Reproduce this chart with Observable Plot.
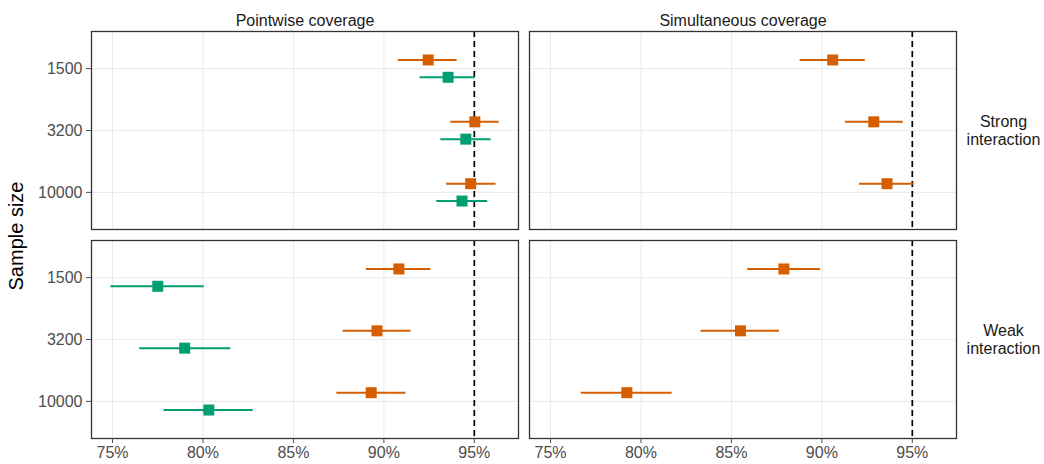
<!DOCTYPE html>
<html>
<head>
<meta charset="utf-8">
<script src="https://cdn.jsdelivr.net/npm/d3@7"></script>
<script src="https://cdn.jsdelivr.net/npm/@observablehq/plot@0.6"></script>
<style>
  html, body { margin: 0; padding: 0; background: #fff; }
  #chart svg { display: block; }
</style>
</head>
<body>
<div id="chart"></div>
<script>
// ---- data ----
const sampleSizes = ["1500", "3200", "10000"];
const coverageTypes = ["Pointwise coverage", "Simultaneous coverage"];
const interactions = ["Strong interaction", "Weak interaction"];
const seriesNames = ["Method A", "Method B"];
const seriesColors = ["#D55E00", "#009E73"];
const xTicks = [75, 80, 85, 90, 95];
const targetCoverage = 95;

// [lower, estimate, upper] per sample size (1500, 3200, 10000), in percent
const aStrongPointwise     = [[90.8, 92.45, 94.05], [93.7, 95.03, 96.37], [93.47, 94.8, 96.2]];
const bStrongPointwise     = [[92.0, 93.55, 95.05], [93.15, 94.53, 95.93], [92.92, 94.32, 95.74]];
const aStrongSimultaneous  = [[88.8, 90.6, 92.4], [91.3, 92.87, 94.5], [92.08, 93.6, 95.1]];
const aWeakPointwise       = [[89.03, 90.83, 92.6], [87.75, 89.62, 91.5], [87.4, 89.3, 91.22]];
const bWeakPointwise       = [[74.91, 77.5, 80.07], [76.5, 78.99, 81.54], [77.85, 80.32, 82.77]];
const aWeakSimultaneous    = [[85.9, 87.9, 89.93], [83.32, 85.5, 87.66], [76.7, 79.22, 81.72]];

function rowsFor(series, coverage, interaction, triples) {
  return triples.map(([lo, est, hi], i) => ({series, coverage, interaction, size: sampleSizes[i], lo, est, hi}));
}

const rows = [
  ...rowsFor(seriesNames[0], coverageTypes[0], interactions[0], aStrongPointwise),
  ...rowsFor(seriesNames[1], coverageTypes[0], interactions[0], bStrongPointwise),
  ...rowsFor(seriesNames[0], coverageTypes[1], interactions[0], aStrongSimultaneous),
  ...rowsFor(seriesNames[0], coverageTypes[0], interactions[1], aWeakPointwise),
  ...rowsFor(seriesNames[1], coverageTypes[0], interactions[1], bWeakPointwise),
  ...rowsFor(seriesNames[0], coverageTypes[1], interactions[1], aWeakSimultaneous)
];

// position-dodge within each sample-size slot (like ggplot position_dodge)
const dodge = 0.14;
const yPos = d => sampleSizes.indexOf(d.size) + (d.series === seriesNames[0] ? -dodge : dodge);

// continuous x domain with 5% expansion, like ggplot
const xMin = d3.min([...rows.map(d => d.lo), targetCoverage]);
const xMax = d3.max([...rows.map(d => d.hi), targetCoverage]);
const xPad = (xMax - xMin) * 0.05;

const grid = {stroke: "#ebebeb", strokeOpacity: 1, strokeWidth: 1.1};

const chart = Plot.plot({
  width: 1044,
  height: 464,
  marginLeft: 90,
  marginRight: 87,
  marginTop: 30,
  marginBottom: 25,
  style: {fontFamily: "'Liberation Sans', Arial, sans-serif", fontSize: "16px", background: "#fff", color: "#1a1a1a"},
  x: {domain: [xMin - xPad, xMax + xPad]},
  y: {domain: [-0.6, sampleSizes.length - 0.4], reverse: true},
  fx: {domain: coverageTypes, paddingInner: 0.024, paddingOuter: 0},
  fy: {domain: interactions, paddingInner: 0.052, paddingOuter: 0},
  color: {domain: seriesNames, range: seriesColors},
  marks: [
    Plot.gridX({ticks: xTicks, ...grid}),
    Plot.gridY({ticks: sampleSizes.map((s, i) => i), ...grid}),
    Plot.ruleX([targetCoverage], {stroke: "#000", strokeWidth: 1.7, strokeDasharray: "6,4"}),
    Plot.ruleY(rows, {fx: "coverage", fy: "interaction", y: yPos, x1: "lo", x2: "hi", stroke: "series", strokeWidth: 2}),
    Plot.dot(rows, {fx: "coverage", fy: "interaction", x: "est", y: yPos, fill: "series", symbol: "square", r: 6.2}),
    Plot.frame({stroke: "#333", strokeWidth: 1.3}),
    Plot.axisX({ticks: xTicks, tickFormat: d => d + "%", tickSize: 5, tickPadding: 3, fontSize: 16, color: "#4d4d4d", label: null}),
    Plot.axisY({ticks: sampleSizes.map((s, i) => i), tickFormat: i => sampleSizes[i], tickSize: 5, tickPadding: 4, fontSize: 16, color: "#4d4d4d", label: null}),
    Plot.axisFx({anchor: "top", tickSize: 0, tickPadding: 6, fontSize: 16, color: "#1a1a1a", label: null}),
    Plot.axisFy({anchor: "right", tickSize: 0, tickPadding: 47, textAnchor: "middle", lineHeight: 1.07, fontSize: 16, color: "#1a1a1a", label: null, tickFormat: d => d.replace(" ", "\n")})
  ]
});

d3.select(chart).append("text")
  .attr("transform", "translate(16,236) rotate(-90)")
  .attr("text-anchor", "middle")
  .attr("dy", "0.35em")
  .attr("fill", "#000")
  .style("font-size", "20px")
  .text("Sample size");

document.getElementById("chart").appendChild(chart);
</script>
</body>
</html>
